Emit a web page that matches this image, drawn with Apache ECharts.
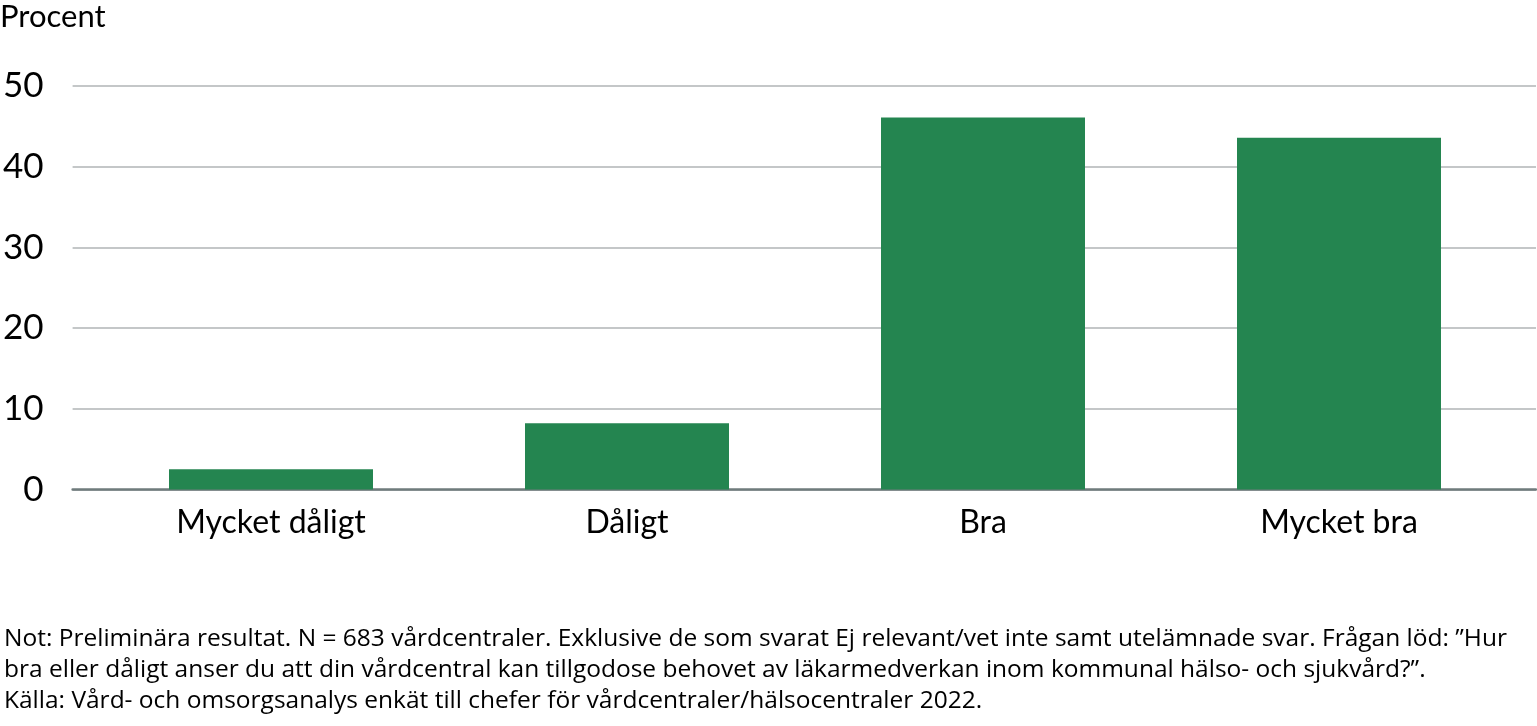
<!DOCTYPE html>
<html>
<head>
<meta charset="utf-8">
<script src="https://cdn.jsdelivr.net/npm/echarts@6/dist/echarts.min.js"></script>
<style>
html,body{margin:0;padding:0;background:#fff;}
#chart{width:1537px;height:726px;}
</style>
</head>
<body>
<div id="chart"></div>
<script>
const categories = ['Mycket dåligt', 'Dåligt', 'Bra', 'Mycket bra'];
const values = [2.5, 8.2, 46.1, 43.6];
const yTicks = { min: 0, max: 50, interval: 10 };
const yTitle = 'Procent';
const noteLines = [
  'Not: Preliminära resultat. N = 683 vårdcentraler. Exklusive de som svarat Ej relevant/vet inte samt utelämnade svar. Frågan löd: ”Hur',
  'bra eller dåligt anser du att din vårdcentral kan tillgodose behovet av läkarmedverkan inom kommunal hälso- och sjukvård?”.',
  'Källa: Vård- och omsorgsanalys enkät till chefer för vårdcentraler/hälsocentraler 2022.'
];

const FONT = 'Lato';
const NOTE_FONT = '"Open Sans"';
const chart = echarts.init(document.getElementById('chart'), null, { renderer: 'canvas' });
chart.setOption({
  animation: false,
  backgroundColor: '#ffffff',
  textStyle: { fontFamily: FONT, color: '#000' },
  grid: [
    { left: 69, right: 1, top: 86, bottom: 236.5, containLabel: false },
    { left: 93, right: 20, top: 86, bottom: 236.5, containLabel: false }
  ],
  xAxis: [
    { type: 'category', gridIndex: 0, data: categories,
      axisLine: { show: true, lineStyle: { color: '#6f7b7c', width: 2.5 } },
      axisTick: { show: false }, axisLabel: { show: false }, splitLine: { show: false } },
    { type: 'category', gridIndex: 1, data: categories,
      axisLine: { show: false }, axisTick: { show: false },
      axisLabel: { show: true, fontFamily: FONT, fontSize: 32, color: '#000', margin: 17 } }
  ],
  yAxis: [
    { type: 'value', gridIndex: 0, min: yTicks.min, max: yTicks.max, interval: yTicks.interval,
      axisLine: { show: false }, axisTick: { show: false },
      axisLabel: { fontFamily: FONT, fontSize: 35, color: '#000', margin: 29 },
      splitLine: { show: true, lineStyle: { color: '#b1b5b6', width: 1.5 } } },
    { type: 'value', gridIndex: 1, min: yTicks.min, max: yTicks.max, interval: yTicks.interval,
      show: false, splitLine: { show: false } }
  ],
  series: [
    { type: 'bar', xAxisIndex: 1, yAxisIndex: 1, data: values, barWidth: 204,
      itemStyle: { color: '#248550' }, z: 3 }
  ],
  graphic: [
    { type: 'text', left: 0, top: 1,
      style: { text: yTitle, font: '31px ' + FONT, fill: '#000' } },
    { type: 'text', left: 4, top: 624,
      style: { text: noteLines.join('\n'), font: '24.5px ' + NOTE_FONT, lineHeight: 30.7, fill: '#000' } }
  ]
});
</script>
</body>
</html>
